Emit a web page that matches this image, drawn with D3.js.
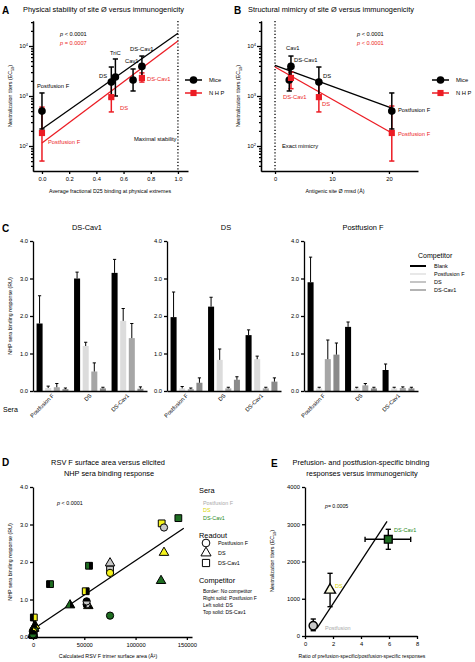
<!DOCTYPE html>
<html><head><meta charset="utf-8">
<script src="https://cdn.jsdelivr.net/npm/d3@7"></script>
<style>body{margin:0;background:#fff}svg{display:block}</style>
</head><body><svg id="c" width="475" height="662"></svg>
<script>
// ---------------- DATA ----------------
// Panel A: stability vs titer
const aMiceNames = ["Postfusion F","DS","TriC","Cav1","DS-Cav1"];
const aMiceX = [0, 0.51, 0.54, 0.67, 0.735];
const miceTiter = [500, 1900, 2400, 2090, 3900];
const miceLow = [219, 912, 1000, 1260, 2500];
const miceHigh = [1150, 3800, 5500, 3470, 6300];
const aNhpNames = ["Postfusion F","DS","DS-Cav1"];
const aNhpX = [0, 0.51, 0.735];
const nhpTiter = [182, 950, 2300];
const nhpLow = [50, 480, 1900];
const nhpHigh = [600, 1900, 2900];
const aFitX = [0, 1];
const aFitMice = [219, 18000];
const aFitNhp = [115, 12600];
// Panel B: rmsd vs titer
const bMiceNames = ["Postfusion F","DS","Cav1","DS-Cav1"];
const bMiceX = [20.5, 7.7, 2.5, 2.8];
const bMiceY = [500, 1900, 2090, 3900];
const bMiceLow = [219, 912, 1260, 2500];
const bMiceHigh = [1150, 3800, 3470, 6300];
const bNhpX = [20.5, 7.7, 2.8];
const bNhpY = [182, 950, 2300];
const bNhpLow = [50, 480, 1400];
const bNhpHigh = [630, 2100, 3000];
const bFitX = [0, 20.5];
const bFitMice = [4100, 575];
const bFitNhp = [3800, 182];
const logTicks = [100, 1000, 10000];
// Panel C: competition binding
const cSera = ["DS-Cav1","DS","Postfusion F"];
const cReadouts = ["Postfusion F","DS","DS-Cav1"];
const cCompetitors = ["Blank","Postfusion F","DS","DS-Cav1"];
const cValsDSCav1 = [[1.8,0.08,0.1,0.05],[3.0,1.2,0.52,0.07],[3.15,1.87,1.41,0.06]];
const cErrDSCav1  = [[0.74,0.05,0.1,0.03],[0.17,0.1,0.23,0.03],[0.36,0.33,0.39,0.05]];
const cValsDS     = [[1.97,0.07,0.05,0.22],[2.25,0.83,0.07,0.3],[1.49,0.85,0.07,0.25]];
const cErrDS      = [[0.67,0.05,0.03,0.13],[0.25,0.29,0.03,0.08],[0.14,0.08,0.03,0.1]];
const cValsPostF  = [[2.9,0.07,0.85,0.97],[1.71,0.07,0.15,0.07],[0.56,0.07,0.08,0.07]];
const cErrPostF   = [[0.67,0.03,0.51,0.31],[0.13,0.03,0.05,0.03],[0.16,0.03,0.03,0.03]];
// Panel D: surface area vs binding
const dArea  = [75100,0,800,0, 125450,51400,800,0, 141700,54600,16600,0,
                75100,0,0,1000, 127700,53900,0,2000, 124800,36100,0,1000,
                127700,0,52300,52300, 75100,0,0,0, 75100,0,0,0];
const dResp  = [1.80,0.08,0.10,0.05, 3.03,1.22,0.52,0.07, 3.17,1.90,1.41,0.05,
                1.97,0.07,0.05,0.22, 2.25,0.83,0.07,0.30, 1.50,0.85,0.07,0.25,
                2.92,0.07,0.87,0.95, 1.71,0.07,0.15,0.07, 0.57,0.07,0.08,0.07];
const dShape = ["square","square","square","square","square","square","square","square","square","square","square","square",
                "triangle","triangle","triangle","triangle","triangle","triangle","triangle","triangle","triangle","triangle","triangle","triangle",
                "circle","circle","circle","circle","circle","circle","circle","circle","circle","circle","circle","circle"];
const dColorKey = ["PostF","PostF","PostF","PostF","DS","DS","DS","DS","DSCav1","DSCav1","DSCav1","DSCav1",
                   "PostF","PostF","PostF","PostF","DS","DS","DS","DS","DSCav1","DSCav1","DSCav1","DSCav1",
                   "PostF","PostF","PostF","PostF","DS","DS","DS","DS","DSCav1","DSCav1","DSCav1","DSCav1"];
const dHalf  = ["none","R","L","T","none","R","L","T","none","R","L","T",
                "none","R","L","T","none","R","L","T","none","R","L","T",
                "none","R","L","T","none","R","L","T","none","R","L","T"];
const dFitX = [1950, 147000];
const dFitY = [0.24, 2.9];
// Panel E: ratio vs titer
const eNames = ["Postfusion","DS","DS-Cav1"];
const eRatio = [0.59, 1.79, 5.95];
const eRatioLow = [0.59, 1.79, 4.29];
const eRatioHigh = [0.59, 1.79, 7.55];
const eTiter = [276, 1235, 2596];
const eTiterLow = [142, 787, 2327];
const eTiterHigh = [456, 1683, 2864];
const eFitX = [0.86, 5.86];
const eFitY = [214, 3075];

// ---------------- STYLE ----------------
const FONT = '"Liberation Sans", Arial, Helvetica, sans-serif';
const RED = "#ec1c24";
const COL = {PostF:"#c8c8c8", DS:"#f4f21c", DSCav1:"#1f6e22"};
const TXTCOL = {PostF:"#a8a8a8", DS:"#d8d400", DSCav1:"#1f8a22"};
const barColors = ["#000000","#dcdcdc","#a6a6a6","#8a8a8a"];
const AXW = 1.3;

const svg = d3.select("#c").attr("font-family", FONT);
svg.append("rect").attr("width",475).attr("height",662).attr("fill","#fff");
const defs = svg.append("defs");
defs.append("clipPath").attr("id","hL").append("rect").attr("x",-10).attr("y",-10).attr("width",10).attr("height",20);
defs.append("clipPath").attr("id","hR").append("rect").attr("x",0).attr("y",-10).attr("width",10).attr("height",20);
defs.append("clipPath").attr("id","hT").append("rect").attr("x",-10).attr("y",-10).attr("width",20).attr("height",10);

function txt(g, x, y, s, o = {}) {
  const t = g.append("text").attr("x", x).attr("y", y).text(s)
    .attr("font-size", o.size || 6).attr("fill", o.fill || "#000")
    .attr("text-anchor", o.anchor || "start");
  if (o.weight) t.attr("font-weight", o.weight);
  if (o.rotate) t.attr("transform", `rotate(${o.rotate},${x},${y})`);
  return t;
}
function styleAxis(sel, fs) {
  sel.selectAll("path,line").attr("stroke", "#000").attr("stroke-width", AXW);
  sel.selectAll("text").attr("font-size", fs || 5.8).attr("font-family", FONT).attr("fill", "#000");
}
function ec50Label(g, x, y, size) {
  const t = g.append("text").attr("transform", `translate(${x},${y}) rotate(-90)`)
    .attr("text-anchor", "middle").attr("font-size", size);
  t.append("tspan").text("Neutralization titers (EC");
  t.append("tspan").text("50").attr("font-size", size * 0.7).attr("dy", 1.5);
  t.append("tspan").text(")").attr("dy", -1.5);
}
function pText(g, x, y, rest, fill, size) {
  const t = g.append("text").attr("x", x).attr("y", y).attr("font-size", size).attr("fill", fill);
  t.append("tspan").text("p").attr("font-style", "italic");
  t.append("tspan").text(rest);
}
function logAxisLeft(g, y, x0) {
  const minor = [];
  for (let e = 1; e <= 4; e++) for (let m = 2; m < 10; m++) {
    const v = m * 10 ** e; if (v >= y.domain()[0] && v <= y.domain()[1]) minor.push(v);
  }
  const a1 = g.append("g").attr("transform", `translate(${x0},0)`)
    .call(d3.axisLeft(y).tickValues(minor).tickSize(2).tickSizeOuter(0).tickFormat(""));
  const a2 = g.append("g").attr("transform", `translate(${x0},0)`)
    .call(d3.axisLeft(y).tickValues(logTicks).tickSize(4).tickSizeOuter(0).tickFormat(""));
  styleAxis(a1); styleAxis(a2);
  logTicks.forEach(v => {
    const t = g.append("text").attr("x", x0 - 5).attr("y", y(v) + 2).attr("text-anchor", "end").attr("font-size", 5.8);
    t.append("tspan").text("10");
    t.append("tspan").text(String(Math.round(Math.log10(v)))).attr("font-size", 4).attr("dy", -2.5);
  });
}
function errV(g, x, y1, y2, col, w, capTop = true, capBot = true) {
  g.append("line").attr("x1", x).attr("x2", x).attr("y1", y1).attr("y2", y2).attr("stroke", col).attr("stroke-width", w);
  if (capTop) g.append("line").attr("x1", x - 2.6).attr("x2", x + 2.6).attr("y1", y1).attr("y2", y1).attr("stroke", col).attr("stroke-width", w);
  if (capBot) g.append("line").attr("x1", x - 2.6).attr("x2", x + 2.6).attr("y1", y2).attr("y2", y2).attr("stroke", col).attr("stroke-width", w);
}

// ---------------- PANEL A / B (shared drawer) ----------------
function titerPanel(o) {
  const g = svg.append("g");
  const x = o.x, y = o.y;
  g.append("line").attr("x1", x(o.refX)).attr("x2", x(o.refX)).attr("y1", 21).attr("y2", 171)
    .attr("stroke", "#000").attr("stroke-width", 1.3).attr("stroke-dasharray", "1.2,2");
  logAxisLeft(g, y, o.axisX);
  const ax = g.append("g").attr("transform", "translate(0,171)")
    .call(d3.axisBottom(x).tickValues(o.xticks).tickFormat(o.xfmt).tickSize(3).tickSizeOuter(0).tickPadding(2.5));
  styleAxis(ax);
  const line = d3.line().x(d => x(d[0])).y(d => y(d[1]));
  g.append("path").datum(d3.zip(o.fitX, o.fitMice)).attr("d", line).attr("stroke", "#000").attr("stroke-width", 1.3).attr("fill", "none");
  g.append("path").datum(d3.zip(o.fitX, o.fitNhp)).attr("d", line).attr("stroke", RED).attr("stroke-width", 1.3).attr("fill", "none");
  o.nhpX.forEach((v, i) => errV(g, x(v), y(o.nhpHigh[i]), y(Math.max(o.nhpLow[i], 32)), RED, 1.5, true, o.nhpLow[i] >= 40));
  o.miceX.forEach((v, i) => errV(g, x(v), y(o.miceHigh[i]), y(o.miceLow[i]), "#000", 1.5));
  o.miceX.forEach((v, i) => g.append("path").attr("d", d3.symbol(d3.symbolCircle, 46)()).attr("transform", `translate(${x(v)},${y(o.miceY[i])})`).attr("fill", "#000"));
  o.nhpX.forEach((v, i) => g.append("path").attr("d", d3.symbol(d3.symbolSquare, 38)()).attr("transform", `translate(${x(v)},${y(o.nhpY[i])})`).attr("fill", RED));
  const lx = o.legX;
  g.append("line").attr("x1", lx).attr("x2", lx + 17).attr("y1", 80).attr("y2", 80).attr("stroke", "#000").attr("stroke-width", 1.5);
  g.append("path").attr("d", d3.symbol(d3.symbolCircle, 46)()).attr("transform", `translate(${lx + 8.5},80)`).attr("fill", "#000");
  g.append("line").attr("x1", lx).attr("x2", lx + 17).attr("y1", 93).attr("y2", 93).attr("stroke", RED).attr("stroke-width", 1.5);
  g.append("path").attr("d", d3.symbol(d3.symbolSquare, 38)()).attr("transform", `translate(${lx + 8.5},93)`).attr("fill", RED);
  txt(g, lx + 24, 82, "Mice", {size: 5.8});
  txt(g, lx + 24, 95, "N H P", {size: 5.8});
  pText(g, o.pX, 36, " < 0.0001", "#000", 5.6);
  pText(g, o.pX, 45, o.p2, RED, 5.6);
  txt(g, o.letX, 14, o.letter, {size: 10, weight: "bold"});
  txt(g, o.titleX, 12, o.title, {size: 7.4});
  ec50Label(g, o.ylabX, 96, 5.3);
  txt(g, o.xlabX, 193, o.xlab, {size: 5.3, anchor: "middle"});
  o.labels.forEach(l => txt(g, l[0], l[1], l[2], {size: 5.8, fill: l[3] || "#000"}));
  return g;
}

titerPanel({
  x: d3.scaleLinear().domain([-0.066, 1.074]).range([33, 188]),
  y: d3.scaleLog().domain([10 ** 1.5, 10 ** 4.5]).range([171, 21]),
  refX: 1, axisX: 33, xticks: [0, 0.2, 0.4, 0.6, 0.8, 1.0], xfmt: d3.format(".1f"),
  fitX: aFitX, fitMice: aFitMice, fitNhp: aFitNhp,
  miceX: aMiceX, miceY: miceTiter, miceLow: miceLow, miceHigh: miceHigh,
  nhpX: aNhpX, nhpY: nhpTiter, nhpLow: nhpLow, nhpHigh: nhpHigh,
  legX: 185, pX: 60, p2: " = 0.0007", letter: "A", letX: 2, titleX: 23,
  title: "Physical stability of site Ø versus immunogenicity",
  ylabX: 12, xlabX: 110, xlab: "Average fractional D25 binding at physical extremes",
  labels: [[37, 88, "Postfusion F"], [99, 78, "DS"], [110, 55, "TriC"], [125, 63, "Cav1"], [130, 51, "DS-Cav1"],
           [147, 81, "DS-Cav1", RED], [120, 110, "DS", RED], [48, 144, "Postfusion F", RED], [134, 141, "Maximal stability"]]
});

titerPanel({
  x: d3.scaleLinear().domain([-2.46, 25.1]).range([261, 418]),
  y: d3.scaleLog().domain([10 ** 1.5, 10 ** 4.5]).range([171, 21]),
  refX: 0, axisX: 261, xticks: [0, 10, 20], xfmt: d3.format("d"),
  fitX: bFitX, fitMice: bFitMice, fitNhp: bFitNhp,
  miceX: bMiceX, miceY: bMiceY, miceLow: bMiceLow, miceHigh: bMiceHigh,
  nhpX: bNhpX, nhpY: bNhpY, nhpLow: bNhpLow, nhpHigh: bNhpHigh,
  legX: 432, pX: 357, p2: " < 0.0001", letter: "B", letX: 234, titleX: 248,
  title: "Structural mimicry of site Ø  versus immunogenicity",
  ylabX: 240, xlabX: 335, xlab: "Antigenic site Ø rmsd (Å)",
  labels: [[286, 50, "Cav1"], [294, 62, "DS-Cav1"], [323, 78, "DS"], [398, 112, "Postfusion F"],
           [283, 99, "DS-Cav1", RED], [322, 106, "DS", RED], [398, 136, "Postfusion F", RED], [282, 148, "Exact mimicry"]]
});

// ---------------- PANEL C ----------------
const cY = d3.scaleLinear().domain([0, 4]).range([391, 241]);
const cX0 = [33, 167, 304];
const cTitleX = [87, 226, 363];
const cSets = [[cValsDSCav1, cErrDSCav1], [cValsDS, cErrDS], [cValsPostF, cErrPostF]];
cSera.forEach((s, i) => {
  const x0 = cX0[i];
  const g = svg.append("g");
  const xb = d3.scaleBand().domain(cReadouts).range([x0, x0 + 114]).paddingInner(0.15).paddingOuter(0.095);
  const xi = d3.scaleBand().domain(cCompetitors).range([0, xb.bandwidth()]).paddingInner(0.3);
  const [vals, errs] = cSets[i];
  cReadouts.forEach((r, ri) => {
    cCompetitors.forEach((c, ci) => {
      const v = vals[ri][ci], e = errs[ri][ci];
      const bx = xb(r) + xi(c);
      g.append("rect").attr("x", bx).attr("y", cY(v)).attr("width", xi.bandwidth()).attr("height", cY(0) - cY(v)).attr("fill", barColors[ci]);
      const cx = bx + xi.bandwidth() / 2;
      g.append("line").attr("x1", cx).attr("x2", cx).attr("y1", cY(v)).attr("y2", cY(v + e)).attr("stroke", "#000").attr("stroke-width", 1);
      g.append("line").attr("x1", cx - 1.6).attr("x2", cx + 1.6).attr("y1", cY(v + e)).attr("y2", cY(v + e)).attr("stroke", "#000").attr("stroke-width", 1);
    });
  });
  const ay = g.append("g").attr("transform", `translate(${x0},0)`)
    .call(d3.axisLeft(cY).tickValues([0, 1, 2, 3, 4]).tickSize(3).tickSizeOuter(0).tickPadding(2));
  styleAxis(ay);
  const axb = g.append("g").attr("transform", "translate(0,391)").call(d3.axisBottom(xb).tickSize(0).tickPadding(0));
  styleAxis(axb, 5.6);
  axb.selectAll("text").attr("text-anchor", "end").attr("dy", 0).attr("y", 0)
    .attr("transform", "translate(2,5) rotate(-45)");
  txt(g, cTitleX[i], 230, s, {size: 7.4, anchor: "middle"});
});
txt(svg, 2, 232, "C", {size: 10, weight: "bold"});
txt(svg, 3, 412, "Sera", {size: 7});
svg.append("text").attr("transform", "translate(12,316) rotate(-90)").attr("text-anchor", "middle").attr("font-size", 5.3).text("NHP sera binding response (RU)");
txt(svg, 418, 258, "Competitor", {size: 7});
cCompetitors.forEach((c, ci) => {
  const yy = 266 + ci * 8;
  svg.append("line").attr("x1", 410).attr("x2", 426).attr("y1", yy).attr("y2", yy)
    .attr("stroke", barColors[ci]).attr("stroke-width", ci === 0 ? 2 : 1.3);
  txt(svg, 434, yy + 2, c, {size: 5.5});
});

// ---------------- PANEL D ----------------
const gD = svg.append("g");
const xD = d3.scaleLinear().domain([0, 155000]).range([33, 192]);
const yD = d3.scaleLinear().domain([0, 4]).range([637, 487]);
const axDy = gD.append("g").attr("transform", "translate(33,0)").call(d3.axisLeft(yD).tickValues([0, 1, 2, 3, 4]).tickSize(3).tickSizeOuter(0).tickPadding(2));
styleAxis(axDy);
const axDx = gD.append("g").attr("transform", "translate(0,637)").call(d3.axisBottom(xD).tickValues([0, 50000, 100000, 150000]).tickFormat(d3.format("d")).tickSize(3).tickSizeOuter(0).tickPadding(2.5));
styleAxis(axDx);
gD.append("path").datum(d3.zip(dFitX, dFitY)).attr("d", d3.line().x(d => xD(d[0])).y(d => yD(d[1])))
  .attr("stroke", "#000").attr("stroke-width", 1.3).attr("fill", "none");
const symMap = {circle: [d3.symbolCircle, 36], square: [d3.symbolSquare, 40], triangle: [d3.symbolTriangle, 34]};
function marker(g, shape, cx, cy, fill, half, scale = 1) {
  const [t, s] = symMap[shape];
  const d = d3.symbol(t, s * scale)();
  const m = g.append("g").attr("transform", `translate(${cx},${cy})`);
  m.append("path").attr("d", d).attr("fill", fill);
  if (half !== "none") m.append("path").attr("d", d).attr("fill", "#000").attr("clip-path", `url(#h${half})`);
  m.append("path").attr("d", d).attr("fill", "none").attr("stroke", "#000").attr("stroke-width", 1);
}
dArea.forEach((a, i) => marker(gD, dShape[i], xD(a), yD(dResp[i]), COL[dColorKey[i]], dHalf[i], 1.15));
pText(gD, 57, 505, " < 0.0001", "#000", 5.4);
txt(gD, 2, 466, "D", {size: 10, weight: "bold"});
txt(gD, 108, 465, "RSV F surface area versus elicited", {size: 7.4, anchor: "middle"});
txt(gD, 109, 476, "NHP sera binding response", {size: 7.4, anchor: "middle"});
gD.append("text").attr("transform", "translate(12,562) rotate(-90)").attr("text-anchor", "middle").attr("font-size", 5.3).text("NHP sera binding response (RU)");
txt(gD, 108, 658, "Calculated RSV F trimer surface area (Å²)", {size: 5.3, anchor: "middle"});
txt(gD, 199, 493, "Sera", {size: 7.4});
txt(gD, 203, 505, "Postfusion F", {size: 5.4, fill: TXTCOL.PostF});
txt(gD, 203, 512, "DS", {size: 5.4, fill: TXTCOL.DS});
txt(gD, 203, 519.5, "DS-Cav1", {size: 5.4, fill: TXTCOL.DSCav1});
txt(gD, 199, 538, "Readout", {size: 7.4});
[["circle", "Postfusion F", 543], ["triangle", "DS", 553], ["square", "DS-Cav1", 563]].forEach(r => {
  marker(gD, r[0], 206, r[2], "#fff", "none", 1.3);
  txt(gD, 218, r[2] + 2, r[1], {size: 5.4});
});
txt(gD, 199, 583, "Competitor", {size: 7.4});
["Border: No competitor", "Right solid: Postfusion F", "Left solid: DS", "Top solid: DS-Cav1"].forEach((s, i) => {
  txt(gD, 203, 593 + i * 7, s, {size: 5});
});

// ---------------- PANEL E ----------------
const gE = svg.append("g");
const xE = d3.scaleLinear().domain([0, 8]).range([305, 417]);
const yE = d3.scaleLinear().domain([0, 4000]).range([636, 487]);
const axEy = gE.append("g").attr("transform", "translate(305,0)").call(d3.axisLeft(yE).tickValues([0, 1000, 2000, 3000, 4000]).tickFormat(d3.format("d")).tickSize(3).tickSizeOuter(0).tickPadding(2));
styleAxis(axEy);
const axEx = gE.append("g").attr("transform", "translate(0,636)").call(d3.axisBottom(xE).tickValues([0, 2, 4, 6, 8]).tickSize(3).tickSizeOuter(0).tickPadding(2.5));
styleAxis(axEx);
gE.append("path").datum(d3.zip(eFitX, eFitY)).attr("d", d3.line().x(d => xE(d[0])).y(d => yE(d[1])))
  .attr("stroke", "#000").attr("stroke-width", 1.3).attr("fill", "none");
eRatio.forEach((r, i) => {
  errV(gE, xE(r), yE(eTiterHigh[i]), yE(eTiterLow[i]), "#000", 1.4);
  if (eRatioHigh[i] > eRatioLow[i]) {
    const yy = yE(eTiter[i]);
    gE.append("line").attr("x1", xE(eRatioLow[i])).attr("x2", xE(eRatioHigh[i])).attr("y1", yy).attr("y2", yy).attr("stroke", "#000").attr("stroke-width", 1.4);
    [eRatioLow[i], eRatioHigh[i]].forEach(v => gE.append("line").attr("x1", xE(v)).attr("x2", xE(v)).attr("y1", yy - 2.6).attr("y2", yy + 2.6).attr("stroke", "#000").attr("stroke-width", 1.4));
  }
});
const eShapes = ["circle", "triangle", "square"];
const eKeys = ["PostF", "DS", "DSCav1"];
eRatio.forEach((r, i) => {
  const [t, s] = symMap[eShapes[i]];
  gE.append("path").attr("d", d3.symbol(t, s * 1.5)()).attr("transform", `translate(${xE(r)},${yE(eTiter[i])})`)
    .attr("fill", i === 1 ? "#fbfbe0" : COL[eKeys[i]]).attr("stroke", "#000").attr("stroke-width", 1.4);
});
txt(gE, 325, 630, "Postfusion", {size: 5.5, fill: TXTCOL.PostF});
txt(gE, 335, 588, "DS", {size: 5.5, fill: TXTCOL.DS});
txt(gE, 394, 532, "DS-Cav1", {size: 5.5, fill: TXTCOL.DSCav1});
pText(gE, 325, 508, "= 0.0005", "#000", 5.2);
txt(gE, 271, 467, "E", {size: 10, weight: "bold"});
txt(gE, 361, 465, "Prefusion- and postfusion-specific binding", {size: 7.4, anchor: "middle"});
txt(gE, 362, 476, "responses versus immunogenicity", {size: 7.4, anchor: "middle"});
ec50Label(gE, 274, 561, 5.3);
txt(gE, 362, 658, "Ratio of prefusion-specific/postfusion-specific responses", {size: 5.1, anchor: "middle"});
</script></body></html>
